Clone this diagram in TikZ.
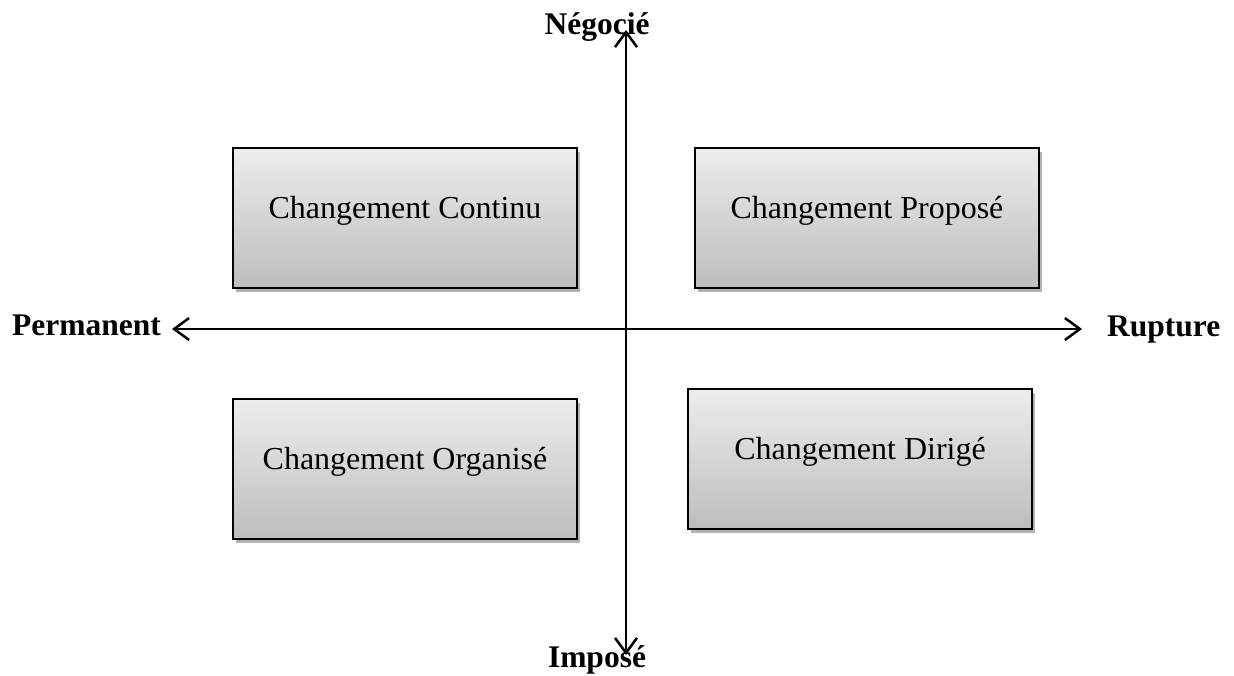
\documentclass[tikz,border=0pt]{standalone}
\usepackage{fontspec}
\setmainfont{Liberation Serif}
\usetikzlibrary{arrows.meta,shadows}
\definecolor{boxtop}{HTML}{EDEDED}
\definecolor{boxbot}{HTML}{BDBDBD}
\tikzset{
  quadbox/.style={draw=black, line width=2pt, rectangle, anchor=north west,
    top color=boxtop, bottom color=boxbot,
    minimum width=344pt, inner sep=0pt, text height=70pt, text depth=70pt,
    font=\fontsize{32}{36}\selectfont,
    drop shadow={shadow xshift=3pt, shadow yshift=-4pt, fill=black, opacity=0.3}},
  axislabel/.style={anchor=base, inner sep=0pt, font=\fontsize{31.5}{36}\selectfont\bfseries},
  axisline/.style={line width=2.7pt, {Straight Barb[length=15pt,width=22pt,line width=2.5pt]}-{Straight Barb[length=15pt,width=22pt,line width=2.5pt]}}
}
\begin{document}
\begin{tikzpicture}[x=1pt,y=-1pt]
\useasboundingbox (0,0) rectangle (1234,675);
\node[quadbox] (cont) at (232,147) {Changement Continu};
\node[quadbox] (prop) at (694,147) {Changement Propos\'e};
\node[quadbox] (orga) at (232,398) {Changement Organis\'e};
\node[quadbox] (diri) at (687,388) {Changement Dirig\'e};
\coordinate (left) at (172,329);
\coordinate (right) at (1082,329);
\coordinate (top) at (626,30);
\coordinate (bottom) at (626,655);
\draw[axisline] (left) -- (right);
\draw[axisline] (top) -- (bottom);
\node[axislabel] (neg) at (597,34) {N\'egoci\'e};
\node[axislabel] (imp) at (597,667) {Impos\'e};
\node[axislabel, anchor=base west] (perm) at (12,335) {Permanent};
\node[axislabel, anchor=base west] (rupt) at (1107,336) {Rupture};
\end{tikzpicture}
\end{document}
